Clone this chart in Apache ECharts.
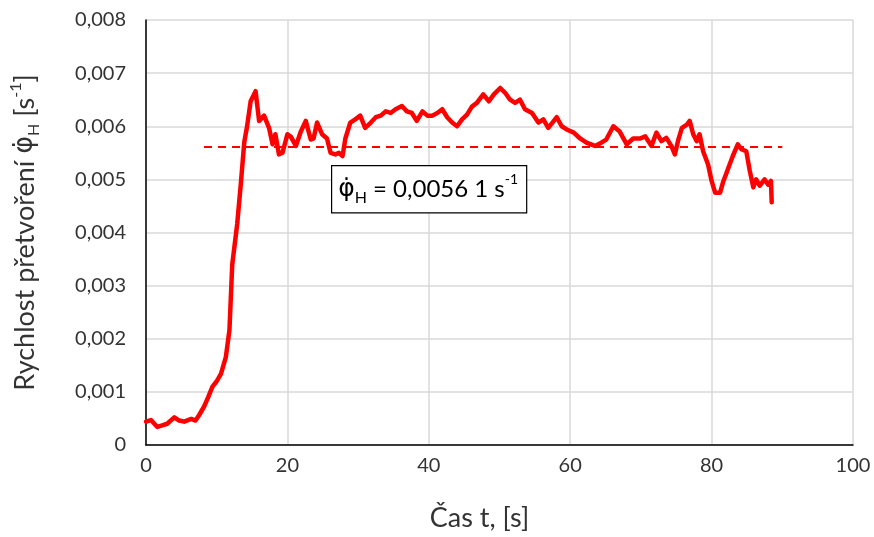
<!DOCTYPE html>
<html><head><meta charset="utf-8">
<script src="https://cdn.jsdelivr.net/npm/echarts@6/dist/echarts.min.js"></script>
<style>html,body{margin:0;padding:0;background:#fff}#c{width:874px;height:537px}</style>
</head><body><div id="c"></div>
<script>
var times = [0,0.7,1.6,2.3,3.0,4.0,4.7,5.4,6.4,7.0,7.5,8.2,8.8,9.4,10.0,10.6,11.3,11.8,12.2,12.9,13.4,13.9,14.3,14.8,15.5,16.0,16.7,17.4,17.9,18.3,18.8,19.3,20.0,20.5,21.2,21.9,22.6,23.3,23.7,24.2,24.9,25.6,26.1,26.8,27.3,27.8,28.2,28.9,29.6,30.3,31.0,31.8,32.5,33.2,33.9,34.6,35.3,36.2,36.9,37.6,38.3,39.1,39.8,40.5,41.2,41.9,42.6,43.3,44.0,44.7,45.4,46.1,46.8,47.7,48.5,49.2,50.1,50.8,51.5,52.2,52.9,53.6,54.6,55.5,56.2,56.9,58.1,58.8,59.5,60.5,61.4,62.3,63.5,64.4,65.1,66.1,67.0,68.0,68.9,69.9,70.6,71.5,72.2,72.9,73.6,74.3,74.8,75.3,75.8,76.5,76.9,77.4,77.9,78.3,78.8,79.5,80.0,80.5,81.2,81.6,82.3,83.0,83.7,84.2,84.9,85.4,85.9,86.3,86.8,87.5,88.0,88.4,88.5];
var rates = [0.00044,0.00047,0.00034,0.00037,0.0004,0.00052,0.00046,0.00044,0.00049,0.00046,0.00056,0.00072,0.0009,0.0011,0.0012,0.00134,0.00166,0.00216,0.0034,0.00416,0.0049,0.0057,0.0060,0.00647,0.00666,0.0061,0.0062,0.00597,0.00566,0.00585,0.00547,0.0055,0.00585,0.0058,0.00563,0.0059,0.0061,0.00575,0.00577,0.00607,0.00585,0.00577,0.0055,0.00547,0.0055,0.00544,0.00577,0.00607,0.00613,0.0062,0.00597,0.00607,0.00617,0.0062,0.00628,0.00625,0.00632,0.00638,0.00628,0.00625,0.0061,0.00628,0.0062,0.0062,0.00625,0.00632,0.00617,0.00607,0.006,0.00613,0.00622,0.00637,0.00644,0.0066,0.00647,0.0066,0.00672,0.00663,0.0065,0.00644,0.0065,0.00632,0.00625,0.00607,0.00613,0.00597,0.00617,0.006,0.00594,0.00588,0.00577,0.00569,0.00563,0.00569,0.00575,0.006,0.0059,0.00566,0.00577,0.00577,0.00581,0.00563,0.00588,0.00572,0.00578,0.00563,0.00547,0.00575,0.00597,0.00603,0.0061,0.00585,0.00572,0.00585,0.00553,0.00528,0.00497,0.00475,0.00475,0.00494,0.00519,0.00544,0.00566,0.00557,0.00553,0.00516,0.00485,0.005,0.00488,0.005,0.0049,0.00497,0.00457];
var meanRate = 0.00561;
var meanStart = 8.2, meanEnd = 90;
var xTicks = [0, 20, 40, 60, 80, 100];
var yTicks = ['0','0,001','0,002','0,003','0,004','0,005','0,006','0,007','0,008'];
var xTitle = 'Čas t, [s]';
var annotationValue = '0,0056 1 s';

var pts = times.map(function (t, i) { return [t, rates[i]]; });
var FONT = 'Lato';
var chart = echarts.init(document.getElementById('c'));
chart.setOption({
  animation: false,
  backgroundColor: '#fff',
  grid: { left: 145, right: 21, top: 20, bottom: 89, containLabel: false },
  xAxis: {
    type: 'value', min: 0, max: 100, interval: 20,
    axisLine: { show: true, lineStyle: { color: '#000', width: 1.5 } },
    axisTick: { show: false },
    splitLine: { show: true, lineStyle: { color: '#d9d9d9', width: 1.5 } },
    axisLabel: { color: '#333', fontSize: 20, fontFamily: FONT, margin: 11,
      formatter: function (v) { return xTicks.indexOf(v) >= 0 ? String(v) : ''; } },
    name: xTitle, nameLocation: 'middle', nameGap: 60,
    nameTextStyle: { color: '#333', fontSize: 27, fontFamily: FONT, padding: [0, 40, 0, 0] }
  },
  yAxis: {
    type: 'value', min: 0, max: 0.008, interval: 0.001,
    axisLine: { show: true, lineStyle: { color: '#000', width: 1.5 } },
    axisTick: { show: false },
    splitLine: { show: true, lineStyle: { color: '#d9d9d9', width: 1.5 } },
    axisLabel: { color: '#333', fontSize: 20, fontFamily: FONT, margin: 20,
      formatter: function (v) { return yTicks[Math.round(v / 0.001)]; } },
    name: '{t|Rychlost přetvoření }{p|φ̇}{sub|H}{t| [s}{sup|-1}{t|]}',
    nameLocation: 'middle', nameGap: 104, nameRotate: 90,
    nameTextStyle: {
      color: '#333', fontSize: 27, fontFamily: FONT,
      rich: {
        t: { fontSize: 27, fontFamily: FONT, color: '#333', lineHeight: 34, verticalAlign: 'middle' },
        p: { fontSize: 27, fontFamily: 'DejaVu Sans', color: '#333', lineHeight: 34, verticalAlign: 'middle' },
        sub: { fontSize: 16, fontFamily: FONT, color: '#333', verticalAlign: 'bottom', lineHeight: 34 },
        sup: { fontSize: 16, fontFamily: FONT, color: '#333', verticalAlign: 'top', lineHeight: 34 }
      }
    }
  },
  series: [{
    type: 'line', data: pts, showSymbol: false, symbol: 'none',
    lineStyle: { color: '#ff0000', width: 4.5, join: 'round', cap: 'round' }, z: 3
  }, {
    type: 'line', data: [[meanStart, meanRate], [meanEnd, meanRate]], showSymbol: false, symbol: 'none',
    lineStyle: { color: '#ff0000', width: 2, type: [8, 6] }, z: 2
  }],
  graphic: [{
    type: 'text', left: 331, top: 165, z: 10,
    style: {
      text: '{p|φ̇}{sub|H}{n| = ' + annotationValue + '}{sup|-1}',
      backgroundColor: '#fff', borderColor: '#000', borderWidth: 1.2,
      padding: [6, 8, 6, 6],
      rich: {
        p: { fontSize: 25, fontFamily: 'DejaVu Sans', fill: '#000', lineHeight: 34, verticalAlign: 'middle' },
        n: { fontSize: 24, fontFamily: FONT, fill: '#000', lineHeight: 34, verticalAlign: 'middle' },
        sub: { fontSize: 16, fontFamily: FONT, fill: '#000', lineHeight: 34, verticalAlign: 'bottom' },
        sup: { fontSize: 14, fontFamily: FONT, fill: '#000', lineHeight: 34, verticalAlign: 'top' }
      }
    }
  }]
});
</script></body></html>
